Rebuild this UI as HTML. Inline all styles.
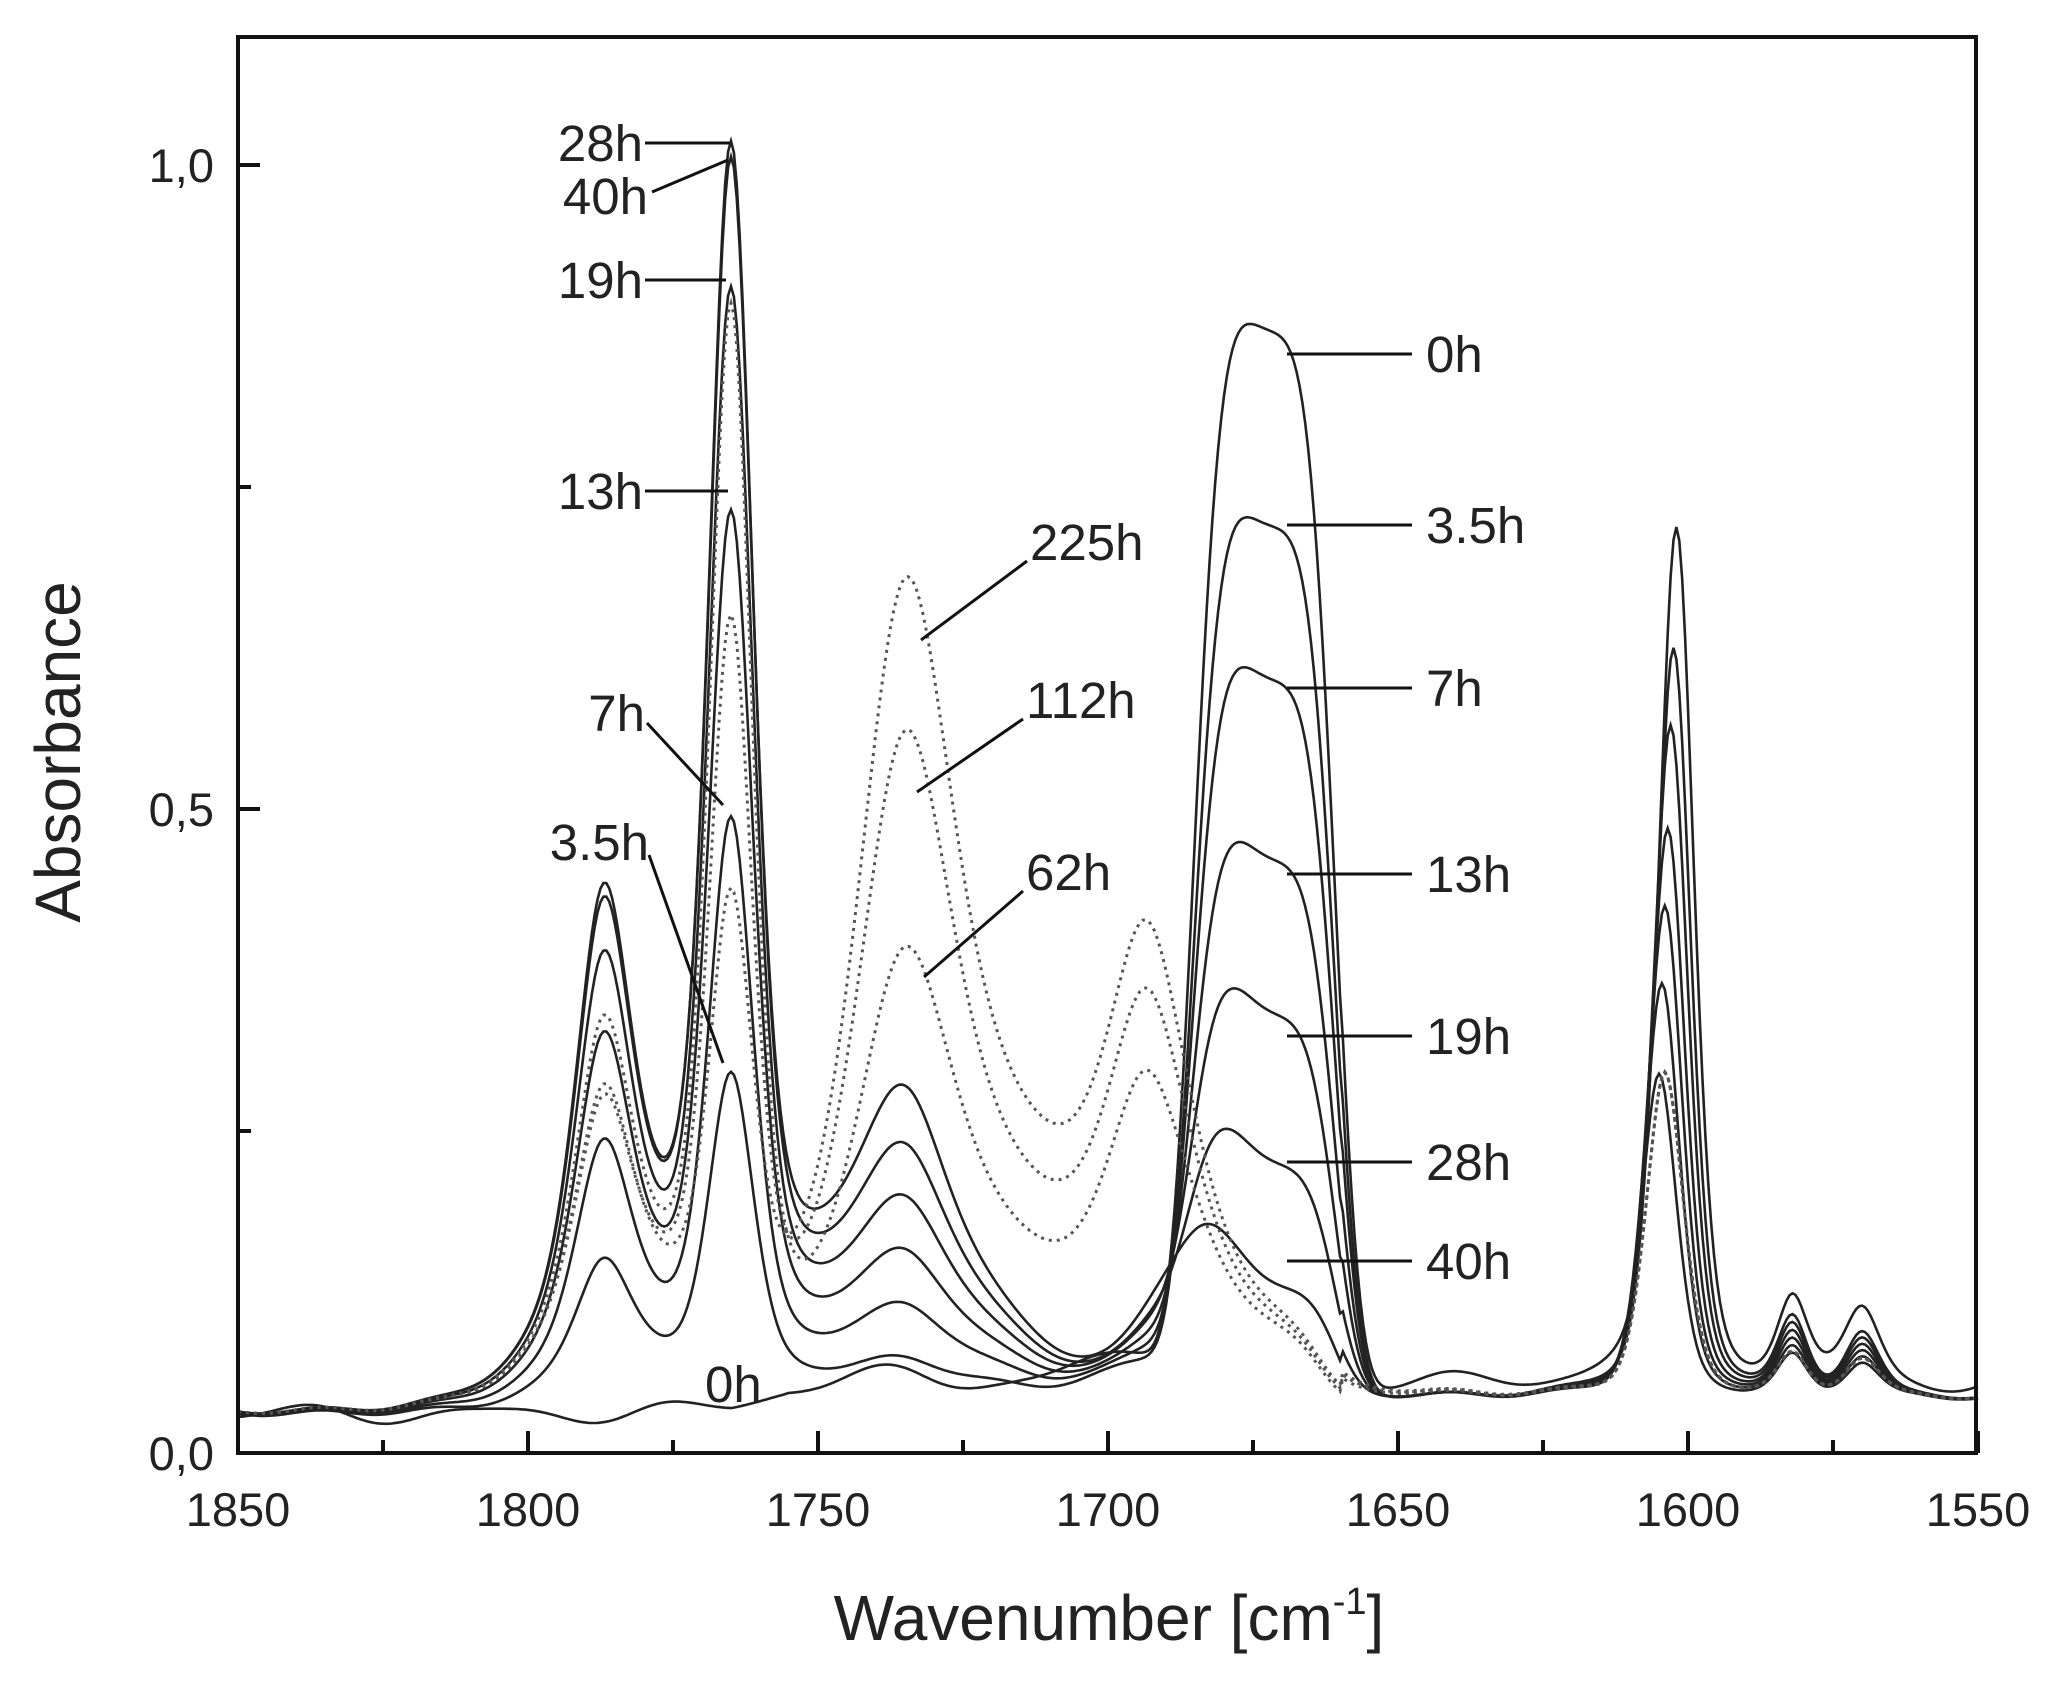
<!DOCTYPE html>
<html><head><meta charset="utf-8"><style>
html,body{margin:0;padding:0;background:#fff;}
svg{display:block;font-family:"Liberation Sans",Arial,sans-serif;}
</style></head><body>
<svg id="s" width="2064" height="1682" viewBox="0 0 2064 1682" xmlns="http://www.w3.org/2000/svg">
<g id="curves" fill="none"></g>
<g stroke="#111" stroke-width="4" fill="none">
<rect x="238" y="37" width="1738" height="1416"/>
</g>
<g id="ticks" stroke="#111" stroke-width="4"></g>
<g font-size="47" fill="#222" text-anchor="middle">
<text x="238" y="1526">1850</text><text x="528" y="1526">1800</text><text x="818" y="1526">1750</text>
<text x="1108" y="1526">1700</text><text x="1398" y="1526">1650</text><text x="1688" y="1526">1600</text><text x="1978" y="1526">1550</text>
</g>
<g font-size="47" fill="#222" text-anchor="end">
<text x="214" y="1470">0,0</text><text x="214" y="826">0,5</text><text x="214" y="182">1,0</text>
</g>
<text x="1109" y="1640" font-size="64" fill="#222" text-anchor="middle">Wavenumber [cm<tspan font-size="38" dy="-26">-1</tspan><tspan dy="26">]</tspan></text>
<text transform="translate(80,752) rotate(-90)" font-size="64" fill="#222" text-anchor="middle">Absorbance</text>
<g stroke="#111" stroke-width="3">
<line x1="645" y1="143" x2="730" y2="143"/>
<line x1="652" y1="192" x2="728" y2="160"/>
<line x1="645" y1="280" x2="726" y2="280"/>
<line x1="645" y1="491" x2="728" y2="491"/>
<line x1="647" y1="723" x2="723" y2="805"/>
<line x1="649" y1="855" x2="723" y2="1063"/>
<line x1="1287" y1="354" x2="1412" y2="354"/>
<line x1="1287" y1="525" x2="1412" y2="525"/>
<line x1="1287" y1="688" x2="1412" y2="688"/>
<line x1="1287" y1="874" x2="1412" y2="874"/>
<line x1="1287" y1="1036" x2="1412" y2="1036"/>
<line x1="1287" y1="1162" x2="1412" y2="1162"/>
<line x1="1287" y1="1261" x2="1412" y2="1261"/>
<line x1="1027" y1="561" x2="921" y2="640"/>
<line x1="1023" y1="719" x2="917" y2="792"/>
<line x1="1023" y1="891" x2="924" y2="977"/>
</g>
<g font-size="51" fill="#222">
<text x="643" y="161" text-anchor="end">28h</text>
<text x="648" y="214" text-anchor="end">40h</text>
<text x="643" y="298" text-anchor="end">19h</text>
<text x="643" y="509" text-anchor="end">13h</text>
<text x="645" y="731" text-anchor="end">7h</text>
<text x="649" y="860" text-anchor="end">3.5h</text>
<text x="705" y="1402">0h</text>
<text x="1426" y="372">0h</text>
<text x="1426" y="543">3.5h</text>
<text x="1426" y="706">7h</text>
<text x="1426" y="892">13h</text>
<text x="1426" y="1054">19h</text>
<text x="1426" y="1180">28h</text>
<text x="1426" y="1279">40h</text>
<text x="1030" y="560">225h</text>
<text x="1026" y="718">112h</text>
<text x="1026" y="890">62h</text>
</g>
</svg>
<script>
(function(){
var NS="http://www.w3.org/2000/svg";
function X(w){return 238+(1850-w)*5.8;}
function Y(a){return 1453-a*1288;}
function pv(w,c,h,hw){var d=(w-c)/hw;return h*(0.6*Math.exp(-0.693*d*d)+0.4/(1+d*d));}
function ga(w,c,h,hw){var d=(w-c)/hw;return h*Math.exp(-0.693*d*d);}
function sg(w,c,h,hw){var d=(w-c)/hw;return h*Math.exp(-0.693*d*d*d*d);}
function base(w){
  var b=0.03+0.002*Math.sin(w/3.1);
  if(w<1660) b+=0.012;
  return b;
}
var solid=[ // p1787,p1765,p1735,p1675,p1688,p1603,c1603,small,broadL,broadM
 [0,0,0.005,0.815,0,0.66,1602,0.06,0,0.015],
 [0.09,0.24,0.01,0.68,0.01,0.58,1602.5,0.055,0.03,0.03],
 [0.16,0.42,0.03,0.56,0.03,0.52,1603,0.05,0.05,0.05],
 [0.22,0.64,0.05,0.42,0.05,0.44,1603.5,0.045,0.07,0.07],
 [0.27,0.80,0.07,0.30,0.07,0.38,1604,0.04,0.08,0.09],
 [0.30,0.90,0.09,0.185,0.08,0.32,1604.5,0.035,0.09,0.11],
 [0.31,0.88,0.115,0.09,0.10,0.25,1605,0.03,0.09,0.13]
];
var dotted=[ // p1787,p1765,p1735,p1693,p1603,broad
 [0.22,0.80,0.27,0.20,0.25,0.11],
 [0.16,0.55,0.41,0.24,0.25,0.15],
 [0.17,0.33,0.50,0.27,0.25,0.19]
];
var g=document.getElementById("curves");
function add(f,dash){
  var d="";
  for(var w=1850;w>=1550;w-=0.5){
    var a=f(w);d+=(d?"L":"M")+X(w).toFixed(1)+","+Y(a).toFixed(1);
  }
  var p=document.createElementNS(NS,"path");p.setAttribute("d",d);
  p.setAttribute("stroke",dash?"#555":"#222");p.setAttribute("stroke-width",dash?"3":"2.6");
  if(dash)p.setAttribute("stroke-dasharray","3,5");
  g.appendChild(p);
}
solid.forEach(function(s,i){
  add(function(w){
    var a=base(w)+pv(w,1787,s[0],5.5)+pv(w,1765,s[1],4.6)+pv(w,1735,s[2],8);
    a+=ga(w,1782,s[8],16)+ga(w,1738,s[9],22);
    a+=sg(w,1673,s[3],12)+pv(w,1692,s[3]*0.05,14)+pv(w,1688,s[4],8);
    a+=pv(w,s[6],s[5],3.6)+pv(w,1582,s[7],3)+pv(w,1570,s[7]*0.9,3.5);
    if(i==0){a+=0.006*Math.sin(w/5.3)+(w<1765?0.01:0)*Math.min(1,(1765-w)/10);}
    return a;
  },false);
});
dotted.forEach(function(s){
  add(function(w){
    var a=base(w)+pv(w,1787,s[0],5.5)+pv(w,1765,s[1],4.4)+pv(w,1735,s[2],9.5);
    a+=ga(w,1782,0.08,16)+ga(w,1718,s[5],26);
    a+=pv(w,1693,s[3],7.5)+sg(w,1676,0.05,12)+pv(w,1604,s[4],3.8)+pv(w,1582,0.03,3)+pv(w,1570,0.03,3.5);
    return a;
  },true);
});
var t=document.getElementById("ticks");
function ln(x1,y1,x2,y2){var l=document.createElementNS(NS,"line");l.setAttribute("x1",x1);l.setAttribute("y1",y1);l.setAttribute("x2",x2);l.setAttribute("y2",y2);t.appendChild(l);}
for(var w=1850;w>=1550;w-=25){var big=(w%50==0);ln(X(w),1453,X(w),1453-(big?22:13));}
for(var a=0;a<=1.0001;a+=0.25){var big=(Math.round(a*100)%50==0);ln(238,Y(a),238+(big?22:13),Y(a));}
})();
</script>
</body></html>
